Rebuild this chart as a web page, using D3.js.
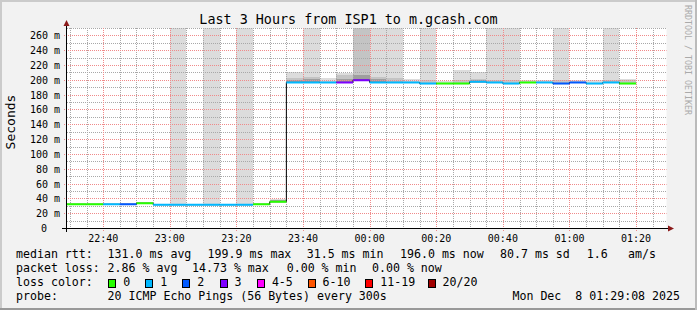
<!DOCTYPE html>
<html>
<head>
<meta charset="utf-8">
<script src="https://cdn.jsdelivr.net/npm/d3@7/dist/d3.min.js"></script>
<style>
body { margin: 0; background: #f2f2f2; }
text { font-family: "DejaVu Sans Mono", monospace; fill: #000; white-space: pre; }
</style>
</head>
<body>
<svg id="chart" width="697" height="310"></svg>
<script>
'use strict'

/* =========================== chart data ============================= */
// start of every 5 minute step (22:xx is Dec 7, the rest Dec 8)
var stepTimes = ["22:25","22:30","22:35","22:40","22:45","22:50","22:55",
	"23:00","23:05","23:10","23:15","23:20","23:25","23:30","23:35","23:40","23:45","23:50","23:55",
	"00:00","00:05","00:10","00:15","00:20","00:25","00:30","00:35","00:40","00:45","00:50","00:55",
	"01:00","01:05","01:10","01:15","01:20","01:25"];
// median rtt in ms
var median = [32, 32, 32, 32, 32, 33.5, 31.5,
	31.5, 31.5, 31.5, 31.5, 31.5, 32, 35.5, 196.5, 196.5, 196.5, 196.5, 199.5,
	196.5, 196.5, 196.5, 195, 195, 195, 197.3, 196.5, 195, 196.5, 196.5, 195,
	196.5, 195, 196.5, 195, null, null];
// lost pings (index into loss colours)
var lossCount = [0, 0, 0, 1, 2, 0, 1,
	1, 1, 1, 1, 1, 0, 0, 1, 1, 1, 3, 3,
	1, 1, 1, 1, 0, 0, 1, 1, 1, 0, 1, 2,
	2, 1, 1, 0, null, null];
// smoke: top of light, middle and dark bands in ms
var smokeHi = [null, null, null, null, null, null, null,
	270, null, 270, null, 270, null, 38.5, 210, 270, 203, 209.5, 270,
	270, 270, 200.5, 270, 199, 213, 210, 270, 270, 200, 200, 270,
	200, 200, 270, 200.5, null, null];
var smokeMid = [null, null, null, null, null, null, null,
	null, null, null, null, null, null, null, 202, 204, null, 206.5, 270,
	204, 202, null, 200, null, 200, 200.5, 200, 200, null, null, 200,
	null, null, 200, 199.5, null, null];
var smokeLo = [null, null, null, null, null, null, null,
	null, null, null, null, null, null, 37.5, 199.5, 201, null, 201, 207,
	201, null, null, null, null, null, 199.5, null, null, null, null, null,
	null, null, null, null, null, null];

var yTickValues = [0, 20, 40, 60, 80, 100, 120, 140, 160, 180, 200, 220, 240, 260];
var lossLabels = ["0", "1", "2", "3", "4-5", "6-10", "11-19", "20/20"];
var lossColors = ["#26ff00", "#00b8ff", "#0059ff", "#7e00ff", "#ff00ff", "#ff5500", "#ff0000", "#a10000"];
var rttStats = ["131.0 ms avg", "199.9 ms max", "31.5 ms min", "196.0 ms now", "80.7 ms sd", "1.6", "am/s"];
var lossStats = ["2.86 % avg", "14.73 % max", "0.00 % min", "0.00 % now"];
var probeText = "20 ICMP Echo Pings (56 Bytes) every 300s";
var stampText = "Mon Dec  8 01:29:08 2025";

/* =========================== layout ============================= */
var W = 697, H = 310;
var pLeft = 67, pRight = 666.5, pTop = 28, pBottom = 228;

function parseStep(s){
	var p = s.split(":");
	var h = +p[0], m = +p[1];
	return h >= 12 ? new Date(2025, 11, 7, h, m) : new Date(2025, 11, 8, h, m);
}

var t0 = new Date(2025, 11, 7, 22, 29, 8);
var t1 = new Date(2025, 11, 8, 1, 29, 8);
var x = d3.scaleTime().domain([t0, t1]).range([pLeft, pRight]);
var y = d3.scaleLinear().domain([0, 270]).range([pBottom, pTop]);

var steps = stepTimes.map(function(s, i){
	var st = parseStep(s);
	return { t: st, e: d3.timeMinute.offset(st, 5), v: median[i], loss: lossCount[i],
		hi: smokeHi[i], mid: smokeMid[i], lo: smokeLo[i] };
});

var svg = d3.select("#chart");

// background and 3d frame
svg.append("rect").attr("width", W).attr("height", H).attr("fill", "#f2f2f2");
svg.append("rect").attr("x", 0).attr("y", 0).attr("width", W).attr("height", 2).attr("fill", "#cbcbcb");
svg.append("rect").attr("x", 0).attr("y", 0).attr("width", 2).attr("height", H).attr("fill", "#cbcbcb");
svg.append("rect").attr("x", 0).attr("y", H - 2).attr("width", W).attr("height", 2).attr("fill", "#999");
svg.append("rect").attr("x", W - 2).attr("y", 0).attr("width", 2).attr("height", H).attr("fill", "#bbb");

svg.append("rect").attr("x", pLeft).attr("y", pTop).attr("width", pRight - pLeft).attr("height", pBottom - pTop).attr("fill", "#fff");

svg.append("clipPath").attr("id", "plotclip").append("rect")
	.attr("x", pLeft).attr("y", pTop).attr("width", pRight - pLeft).attr("height", pBottom - pTop);

var plot = svg.append("g").attr("clip-path", "url(#plotclip)");

/* =========================== smoke ============================= */
function smokeLayer(key, color){
	plot.append("g").selectAll("rect")
		.data(steps.filter(function(d){ return d[key] != null && d.v != null; }))
		.enter().append("rect")
		.attr("x", function(d){ return x(d.t); })
		.attr("width", function(d){ return x(d.e) - x(d.t); })
		.attr("y", function(d){ return y(d[key]); })
		.attr("height", function(d){ return y(d.v) - y(d[key]); })
		.attr("fill", color)
		.attr("shape-rendering", "crispEdges");
}
smokeLayer("hi", "#dcdcdc");
smokeLayer("mid", "#c4c4c4");
smokeLayer("lo", "#9e9e9e");

/* =========================== grid ============================= */
// dotted grid, one path per line so the dash starts on the pixel
var grid = svg.append("g").attr("fill", "none").attr("stroke-dasharray", "1,1").attr("stroke-width", 1);
var minorX = d3.timeMinute.every(5).range(t0, t1).filter(function(d){ return d.getMinutes() % 20 !== 0; });
var majorX = d3.timeMinute.every(20).range(t0, t1);
var minorY = d3.range(10, 271, 20);

function px(v){ return Math.round(v) + 0.5; }

grid.selectAll(".vminor").data(minorX).enter().append("path")
	.attr("d", function(d){ return "M" + px(x(d)) + "," + pTop + "V" + pBottom; })
	.attr("stroke", "#a8a8a8");
grid.selectAll(".hminor").data(minorY).enter().append("path")
	.attr("d", function(d){ return "M" + pLeft + "," + px(y(d)) + "H" + pRight; })
	.attr("stroke", "#a8a8a8");
grid.selectAll(".vmajor").data(majorX).enter().append("path")
	.attr("d", function(d){ return "M" + px(x(d)) + "," + pTop + "V" + (pBottom + 3); })
	.attr("stroke", "#f08a8a");
grid.selectAll(".hmajor").data(yTickValues.slice(1)).enter().append("path")
	.attr("d", function(d){ return "M" + (pLeft - 3) + "," + px(y(d)) + "H" + pRight; })
	.attr("stroke", "#f08a8a");

/* =========================== median ============================= */
var medPts = [];
steps.forEach(function(d){
	if(d.v != null){
		medPts.push([x(d.t), y(d.v)]);
		medPts.push([x(d.e), y(d.v)]);
	}
});
var medLayer = svg.append("g").attr("clip-path", "url(#plotclip)");
medLayer.append("path")
	.attr("d", d3.line()(medPts))
	.attr("fill", "none").attr("stroke", "#000").attr("stroke-width", 1);
medLayer.selectAll(".seg").data(steps.filter(function(d){ return d.v != null; }))
	.enter().append("line")
	.attr("x1", function(d){ return x(d.t); }).attr("x2", function(d){ return x(d.e); })
	.attr("y1", function(d){ return y(d.v); }).attr("y2", function(d){ return y(d.v); })
	.attr("stroke", function(d){ return lossColors[d.loss]; })
	.attr("stroke-width", 2);

/* =========================== axes ============================= */
var ax = svg.append("g").attr("shape-rendering", "crispEdges");
ax.append("line").attr("x1", pLeft - 5).attr("x2", 670).attr("y1", pBottom + 0.5).attr("y2", pBottom + 0.5).attr("stroke", "#000");
ax.append("line").attr("x1", pLeft - 0.5).attr("x2", pLeft - 0.5).attr("y1", pBottom + 4).attr("y2", 24).attr("stroke", "#000");
svg.append("path").attr("d", "M668,225.5L674,228.5L668,231.5Z").attr("fill", "#8b1a1a");
svg.append("path").attr("d", "M63.5,26L66.5,20L69.5,26Z").attr("fill", "#8b1a1a");

svg.selectAll(".ylab").data(yTickValues).enter().append("text")
	.attr("x", function(d){ return d === 0 ? 47 : 60; })
	.attr("y", function(d){ return y(d) + 4; })
	.attr("text-anchor", "end")
	.style("font-size", "10px")
	.text(function(d){ return d === 0 ? "0" : d + " m"; });

var fmt = d3.timeFormat("%H:%M");
svg.selectAll(".xlab").data(majorX).enter().append("text")
	.attr("x", function(d){ return x(d); })
	.attr("y", 242)
	.attr("text-anchor", "middle")
	.style("font-size", "10px")
	.text(fmt);

svg.append("text").attr("transform", "translate(15,122) rotate(-90)")
	.attr("text-anchor", "middle").style("font-size", "13px").text("Seconds");

svg.append("text").attr("x", 348.5).attr("y", 24).attr("text-anchor", "middle")
	.style("font-size", "13.4px").text("Last 3 Hours from ISP1 to m.gcash.com");

svg.append("text").attr("transform", "translate(685,5) rotate(90)")
	.style("font-size", "8.3px").style("fill", "#aaa").text("RRDTOOL / TOBI OETIKER");

/* =========================== legend ============================= */
var leg = svg.append("g").style("font-size", "11.6px");
var rows = [258, 272, 286, 300];

leg.append("text").attr("x", 16).attr("y", rows[0]).text("median rtt:");
var rttX = [107.6, 207.6, 306.7, 400, 500, 586.7, 628];
rttStats.forEach(function(s, i){
	leg.append("text").attr("x", rttX[i]).attr("y", rows[0]).text(s);
});

leg.append("text").attr("x", 16).attr("y", rows[1]).text("packet loss:");
var lossX = [107.6, 192, 286.7, 372];
lossStats.forEach(function(s, i){
	leg.append("text").attr("x", lossX[i]).attr("y", rows[1]).text(s);
});

leg.append("text").attr("x", 16).attr("y", rows[2]).text("loss color:");
var swX = [108.3, 145.3, 182.2, 219.6, 256.9, 307.6, 365.3, 427.6];
lossLabels.forEach(function(s, i){
	leg.append("rect").attr("x", Math.round(swX[i]) + 0.5).attr("y", 279.5).attr("width", 7).attr("height", 8)
		.attr("fill", lossColors[i]).attr("stroke", "#000").attr("stroke-width", 1);
	leg.append("text").attr("x", swX[i] + 15).attr("y", rows[2]).text(s);
});

leg.append("text").attr("x", 16).attr("y", rows[3]).text("probe:");
leg.append("text").attr("x", 107.6).attr("y", rows[3]).text(probeText);
leg.append("text").attr("x", 680).attr("y", rows[3]).attr("text-anchor", "end").text(stampText);
</script>
</body>
</html>
